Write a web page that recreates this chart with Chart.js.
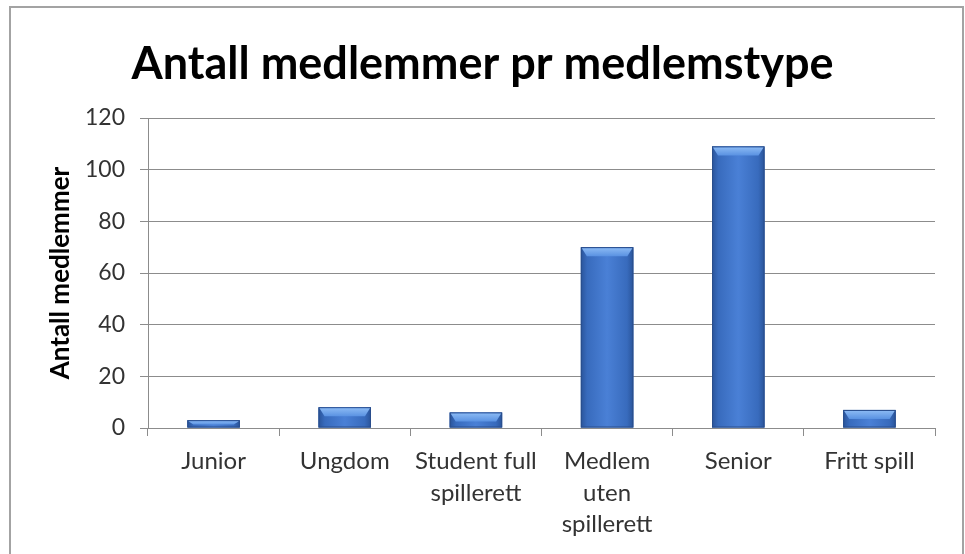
<!DOCTYPE html>
<html>
<head>
<meta charset="utf-8">
<script src="https://cdn.jsdelivr.net/npm/chart.js@4"></script>
<style>
  html, body { margin: 0; padding: 0; background: #fff; }
  #wrap { width: 965px; height: 554px; position: relative; }
</style>
</head>
<body>
<div id="wrap"><canvas id="chart"></canvas></div>
<script>
// Kategorier og verdier
const categories = ['Junior', 'Ungdom', ['Student full', 'spillerett'], ['Medlem', 'uten', 'spillerett'], 'Senior', 'Fritt spill'];
const members = [3, 8, 6, 70, 109, 7];
const yTicks = [0, 20, 40, 60, 80, 100, 120];

const FONT = "Lato, 'Open Sans', sans-serif";
const GRID = '#8c8c8c';

// Ramme rundt hele diagrammet
const framePlugin = {
    id: 'frame',
    afterDraw(chart) {
        const ctx = chart.ctx;
        ctx.save();
        ctx.strokeStyle = '#a3a3a3';
        ctx.lineWidth = 2;
        ctx.strokeRect(10, 7, 953, 560);
        ctx.restore();
    }
};

// Gradient og "bevel" på søylene, som i Excel
const bevelPlugin = {
    id: 'bevel',
    afterDatasetsDraw(chart) {
        const ctx = chart.ctx;
        ctx.save();
        chart.getDatasetMeta(0).data.forEach(el => {
            const l = el.x - el.width / 2, r = el.x + el.width / 2;
            const top = el.y, bottom = el.base;

            const g = ctx.createLinearGradient(l, 0, r, 0);
            g.addColorStop(0, '#2a549a');
            g.addColorStop(0.12, '#386bbd');
            g.addColorStop(0.5, '#4a80d6');
            g.addColorStop(0.88, '#386bbd');
            g.addColorStop(1, '#2a549a');
            ctx.fillStyle = g;
            ctx.fillRect(l, top, r - l, bottom - top);
            ctx.strokeStyle = '#2a4e8c';
            ctx.lineWidth = 1;
            ctx.strokeRect(l + 0.5, top + 0.5, r - l - 1, bottom - top - 1);

            const h = Math.min(9, (bottom - top) * 0.6);
            const gt = ctx.createLinearGradient(0, top, 0, top + h);
            gt.addColorStop(0, '#8fbdf5');
            gt.addColorStop(1, '#5a92e2');
            ctx.fillStyle = gt;
            ctx.beginPath();
            ctx.moveTo(l + 1, top + 1);
            ctx.lineTo(r - 1, top + 1);
            ctx.lineTo(r - 6, top + h);
            ctx.lineTo(l + 6, top + h);
            ctx.closePath();
            ctx.fill();
        });
        ctx.restore();
    }
};

new Chart(document.getElementById('chart'), {
    type: 'bar',
    data: {
        labels: categories,
        datasets: [{
            data: members,
            backgroundColor: '#386bbd',
            borderWidth: 0,
            barPercentage: 0.4,
            categoryPercentage: 1.0,
        }]
    },
    plugins: [bevelPlugin, framePlugin],
    options: {
        responsive: true,
        maintainAspectRatio: false,
        animation: false,
        layout: { padding: { left: 30, right: 30, top: 0, bottom: 0 } },
        plugins: {
            legend: { display: false },
            tooltip: { enabled: false },
            title: {
                display: true,
                text: 'Antall medlemmer pr medlemstype',
                color: '#000',
                font: { family: FONT, size: 45, weight: 'bold', lineHeight: 1.2 },
                padding: { top: 37, bottom: 27 },
            },
        },
        scales: {
            x: {
                afterFit: s => { s.height = 126; },
                grid: { display: true, drawOnChartArea: false, drawTicks: true, tickLength: 8, color: GRID, offset: true },
                border: { color: GRID, width: 1 },
                ticks: {
                    color: '#333',
                    padding: 10,
                    maxRotation: 0,
                    autoSkip: false,
                    font: { family: FONT, size: 24, lineHeight: 1.3 },
                },
            },
            y: {
                min: 0,
                max: 120,
                afterFit: s => { s.width = 118; },
                afterBuildTicks: s => { s.ticks = yTicks.map(v => ({ value: v })); },
                grid: { color: GRID, tickLength: 8, drawTicks: true },
                border: { color: GRID, width: 1 },
                ticks: {
                    color: '#333',
                    padding: 15,
                    font: { family: FONT, size: 23 },
                },
                title: {
                    display: true,
                    text: 'Antall medlemmer',
                    color: '#000',
                    font: { family: FONT, size: 26, weight: 'bold', lineHeight: 1.2 },
                    padding: { top: 15, bottom: 0 },
                },
            },
        },
    },
});
</script>
</body>
</html>
